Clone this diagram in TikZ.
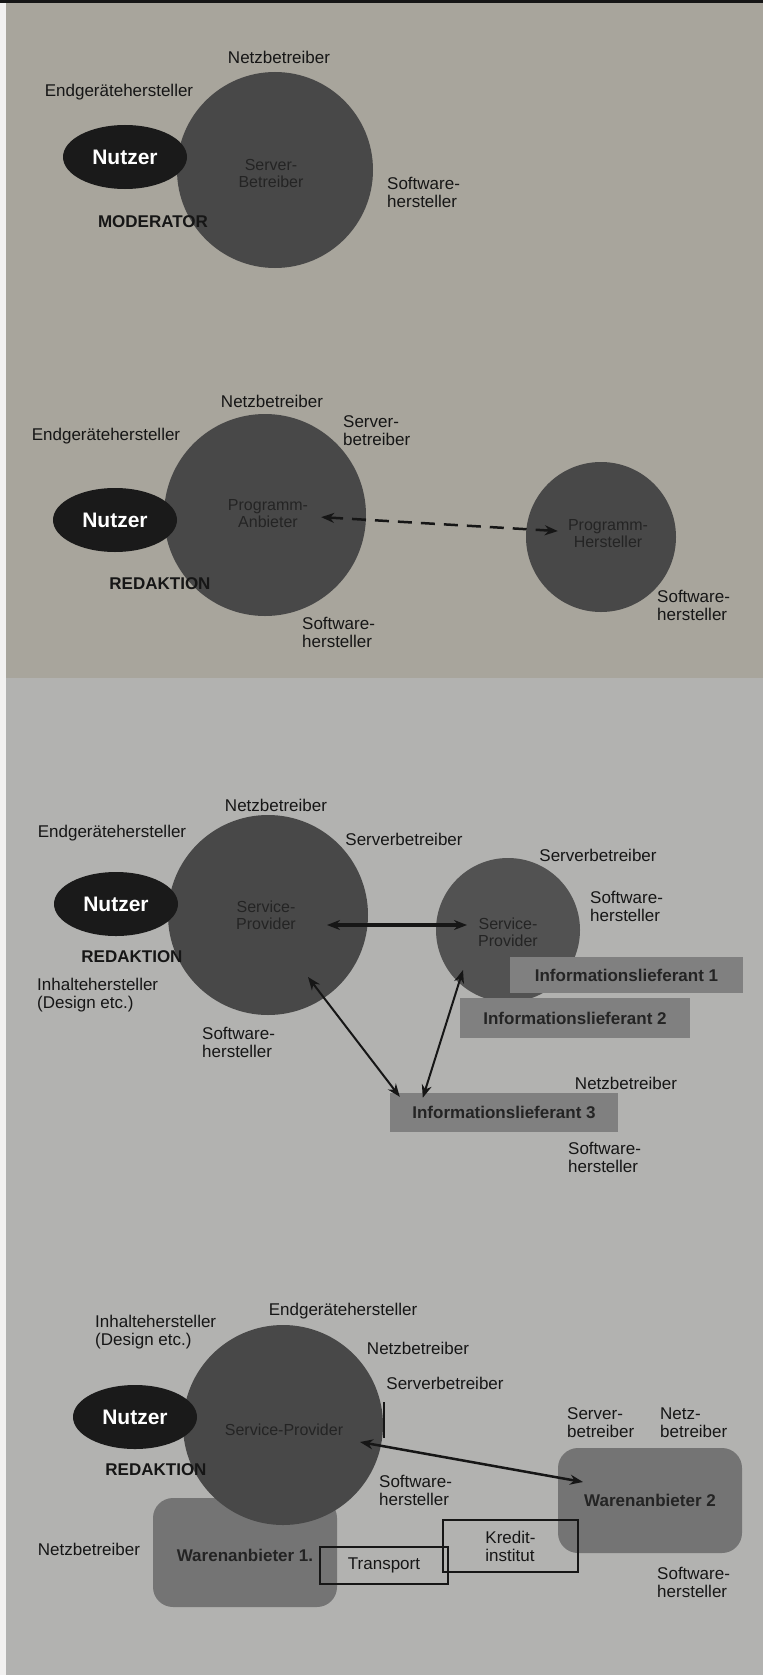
\documentclass[tikz,border=0pt]{standalone}
\usepackage{fontspec}
\setmainfont{Liberation Sans}
\usetikzlibrary{arrows.meta,calc,shapes.geometric}
\definecolor{bgtop}{RGB}{168,165,156}
\definecolor{bgbot}{RGB}{178,178,176}
\definecolor{circ}{RGB}{72,72,72}
\definecolor{circb}{RGB}{82,82,82}
\definecolor{circtxt}{RGB}{36,36,36}
\definecolor{nutz}{RGB}{26,26,26}
\definecolor{infobox}{RGB}{128,128,128}
\definecolor{warebox}{RGB}{116,116,116}
\definecolor{ink}{RGB}{22,22,22}
\begin{document}
\begin{tikzpicture}[x=1pt,y=-1pt,
 lbl/.style={text=ink,font=\fontsize{17}{18}\selectfont,inner sep=0pt,align=left},
 boldlbl/.style={text=ink,font=\bfseries\fontsize{17}{18}\selectfont,inner sep=0pt},
 bigc/.style={circle,fill=circ,inner sep=0pt},
 intxt/.style={text=circtxt,font=\fontsize{16}{17}\selectfont,inner sep=0pt,align=center},
 nutzer/.style={ellipse,fill=nutz,minimum width=124pt,minimum height=64pt,inner sep=0pt,text=white,font=\bfseries\fontsize{21}{22}\selectfont},
 info/.style={fill=infobox,inner sep=0pt,text=circtxt,font=\bfseries\fontsize{17}{18}\selectfont},
 ware/.style={fill=warebox,rounded corners=20pt,inner sep=0pt,text=circtxt,font=\bfseries\fontsize{17}{18}\selectfont},
 outl/.style={draw=ink,line width=2pt,inner sep=0pt,text=ink,font=\fontsize{17}{18}\selectfont,align=left},
 dbl/.style={{Stealth[length=13pt,width=10pt]}-{Stealth[length=13pt,width=10pt]},line width=2pt,draw=ink}
]
\useasboundingbox (0,0) rectangle (763,1675);
% background
\fill[bgtop] (0,0) rectangle (763,678);
\fill[bgbot] (0,678) rectangle (763,1675);
\fill[ink] (0,0) rectangle (763,3);
\fill[white!85!bgtop] (0,3) rectangle (6,1675);

% ---------- section 1 ----------
\node[bigc,minimum size=196pt] (c1) at (275,170) {};
\node[nutzer] (n1) at (125,157) {Nutzer};
\node[intxt] (t1) at (271,173) {Server-\\Betreiber};
\node[lbl] (l1a) at (279,57) {Netzbetreiber};
\node[lbl] (l1b) at (119,92) {Endgerätehersteller};
\node[boldlbl] (l1c) at (153,222) {MODERATOR};
\node[lbl,anchor=west] (l1d) at (387,192) {Software-\\hersteller};

% ---------- section 2 ----------
\node[bigc,minimum size=202pt] (c2) at (265,515) {};
\node[bigc,minimum size=150pt] (c2b) at (601,537) {};
\node[nutzer] (n2) at (115,520) {Nutzer};
\node[intxt] (pa) at (268,514) {Programm-\\Anbieter};
\node[intxt] (ph) at (608,534) {Programm-\\Hersteller};
\node[lbl] (l2a) at (272,401) {Netzbetreiber};
\node[lbl,anchor=west] (l2b) at (343,431) {Server-\\betreiber};
\node[lbl] (l2c) at (106,436) {Endgerätehersteller};
\node[boldlbl] (l2d) at (160,584) {REDAKTION};
\node[lbl,anchor=west] (l2e) at (302,632) {Software-\\hersteller};
\node[lbl,anchor=west] (l2f) at (657,605) {Software-\\hersteller};
\draw[dbl,line width=2.5pt,dash pattern=on 14pt off 9pt,shorten <=13pt,shorten >=10pt] (pa) -- (ph);

% ---------- section 3 ----------
\node[bigc,minimum size=200pt] (c3) at (268,915) {};
\node[bigc,fill=circb,minimum size=144pt] (c3b) at (508,930) {};
\node[nutzer] (n3) at (116,904) {Nutzer};
\node[intxt] (sp1) at (266,915) {Service-\\Provider};
\node[intxt] (sp2) at (508,932) {Service-\\Provider};
\node[info,minimum width=233pt,minimum height=36pt] (i1) at (626.5,975) {Informationslieferant 1};
\node[info,minimum width=230pt,minimum height=40pt] (i2) at (575,1018) {Informationslieferant 2};
\node[info,minimum width=228pt,minimum height=39pt] (i3) at (504,1112.5) {Informationslieferant 3};
\node[lbl] (l3a) at (276,805) {Netzbetreiber};
\node[lbl] (l3b) at (112,833) {Endgerätehersteller};
\node[lbl] (l3c) at (404,839) {Serverbetreiber};
\node[boldlbl] (l3d) at (132,957) {REDAKTION};
\node[lbl,anchor=west] (l3e) at (37,995) {Inhaltehersteller\\(Design etc.)};
\node[lbl,anchor=west] (l3f) at (202,1042) {Software-\\hersteller};
\node[lbl] (l3g) at (598,855) {Serverbetreiber};
\node[lbl,anchor=west] (l3h) at (590,906) {Software-\\hersteller};
\node[lbl] (l3i) at (626,1083) {Netzbetreiber};
\node[lbl,anchor=west] (l3j) at (568,1157) {Software-\\hersteller};
\draw[dbl,line width=3.5pt] ($(sp1.center)+(61,10)$) -- ($(sp2.center)+(-41,-7)$);
\draw[dbl] ($(c3.center)+(40,62)$) -- ($(i3.north west)+(10,4)$);
\draw[dbl] ($(c3b.center)+(-45,40)$) -- ($(i3.north west)+(33,5)$);

% ---------- section 4 ----------
\node[ware,minimum width=184pt,minimum height=109pt] (w1) at (245,1552.5) {};
\node[bigc,minimum size=200pt] (c4) at (283,1425) {};
\node[ware,minimum width=184pt,minimum height=105pt] (w2) at (650,1500.5) {Warenanbieter 2};
\node[font=\bfseries\fontsize{17}{18}\selectfont,text=circtxt,inner sep=0pt] (w1t) at (245,1555) {Warenanbieter 1.};
\node[nutzer] (n4) at (135,1417) {Nutzer};
\node[intxt] (sp4) at (284,1430) {Service-Provider};
\node[outl,minimum width=128pt,minimum height=37pt] (tr) at (384,1565.5) {Transport};
\node[outl,minimum width=135pt,minimum height=52pt] (kr) at (510.5,1546) {Kredit-\\institut};
\node[lbl,anchor=west] (l4a) at (95,1332) {Inhaltehersteller\\(Design etc.)};
\node[lbl] (l4b) at (343,1311) {Endgerätehersteller};
\node[lbl] (l4c) at (418,1348) {Netzbetreiber};
\node[lbl] (l4d) at (445,1383) {Serverbetreiber};
\node[boldlbl] (l4e) at (156,1470) {REDAKTION};
\node[lbl,anchor=west] (l4f) at (379,1490) {Software-\\hersteller};
\node[lbl] (l4g) at (89,1549) {Netzbetreiber};
\node[lbl,anchor=west] (l4h) at (567,1423) {Server-\\betreiber};
\node[lbl,anchor=west] (l4i) at (660,1423) {Netz-\\betreiber};
\node[lbl,anchor=west] (l4j) at (657,1582) {Software-\\hersteller};
\draw[ink,line width=1.2pt] (384,1402) -- (384,1438);
\draw[dbl,line width=2.5pt] ($(sp4.center)+(76,12)$) -- ($(w2.center)+(-67,-18.5)$);
\end{tikzpicture}
\end{document}
